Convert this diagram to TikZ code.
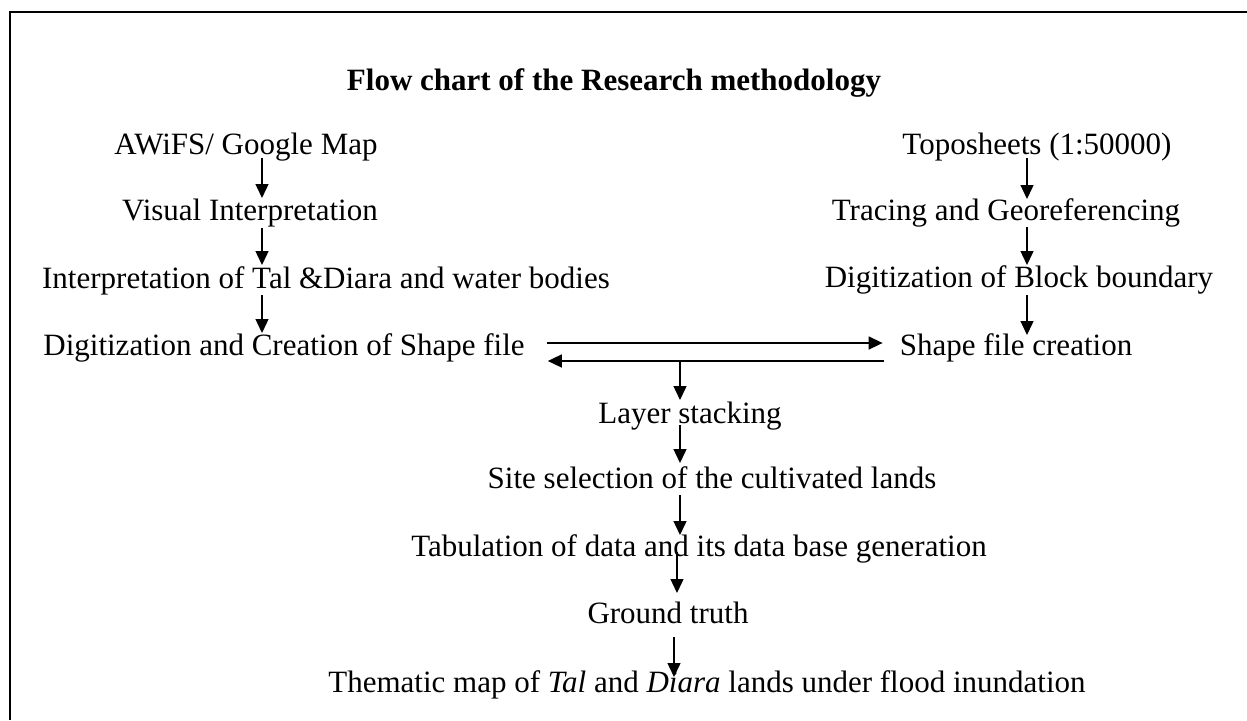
\documentclass[tikz,border=0pt]{standalone}
\usepackage{fontspec}
\setmainfont{Liberation Serif}
\usetikzlibrary{arrows.meta,calc}
\begin{document}
\begin{tikzpicture}[x=1pt,y=-1pt,
  txt/.style={inner sep=0pt,anchor=base,font=\fontsize{31}{37}\selectfont},
  ttl/.style={txt,font=\fontsize{31}{37}\selectfont\bfseries},
  arr/.style={-{Triangle[length=14pt,width=13pt]},line width=1.4pt},
  plain/.style={line width=1.4pt},
  frame/.style={line width=2pt}]
\useasboundingbox (0,0) rectangle (1247,720);
\draw[frame] (10,720) -- (10,12) -- (1247,12);
% columns
\coordinate (cL) at (262,0);
\coordinate (cR) at (1027,0);
\coordinate (cM) at (680,0);
% texts
\node[ttl] (title) at (614,90) {Flow chart of the Research methodology};
\node[txt] (awifs) at (246,154) {AWiFS/ Google Map};
\node[txt] (visual) at (250,220) {Visual Interpretation};
\node[txt] (interp) at (326,288) {Interpretation of Tal \&Diara and water bodies};
\node[txt] (digL) at (284,355) {Digitization and Creation of Shape file};
\node[txt] (topo) at (1037,154) {Toposheets (1:50000)};
\node[txt] (trace) at (1006,220) {Tracing and Georeferencing};
\node[txt] (digR) at (1019,287) {Digitization of Block boundary};
\node[txt] (shapeR) at (1016,355) {Shape file creation};
\node[txt] (layer) at (690,423) {Layer stacking};
\node[txt] (site) at (712,488) {Site selection of the cultivated lands};
\node[txt] (tab) at (699,556) {Tabulation of data and its data base generation};
\node[txt] (ground) at (668,623) {Ground truth};
\node[txt] (them) at (707,692) {Thematic map of \textit{Tal} and \textit{Diara} lands under flood inundation};
% left column arrows
\draw[arr] ($(awifs.base -| cL)+(0,4)$) -- ($(visual.base -| cL)+(0,-22)$);
\draw[arr] ($(visual.base -| cL)+(0,8)$) -- ($(interp.base -| cL)+(0,-23)$);
\draw[arr] ($(interp.base -| cL)+(0,7)$) -- ($(digL.base -| cL)+(0,-22)$);
% right column arrows
\draw[arr] ($(topo.base -| cR)+(0,4)$) -- ($(trace.base -| cR)+(0,-21)$);
\draw[arr] ($(trace.base -| cR)+(0,7)$) -- ($(digR.base -| cR)+(0,-22)$);
\draw[arr] ($(digR.base -| cR)+(0,8)$) -- ($(shapeR.base -| cR)+(0,-20)$);
% horizontal exchange
\draw[arr] ($(digL.base east)+(22,-12)$) -- ($(shapeR.base west)+(-17,-12)$);
\draw[arr] ($(shapeR.base west)+(-16,6)$) -- ($(digL.base east)+(23,6)$);
\coordinate (split) at ($(digL.base -| cM)+(0,6)$);
\draw[arr] (split) -- ($(layer.base -| cM)+(0,-23)$);
% centre column arrows
\draw[arr] ($(layer.base -| cM)+(0,2)$) -- ($(site.base -| cM)+(0,-25)$);
\draw[arr] ($(site.base -| cM)+(0,7)$) -- ($(tab.base -| cM)+(0,-21)$);
\draw[arr] ($(tab.base -| cM)+(-3,-4)$) -- ($(ground.base -| cM)+(-3,-30)$);
\draw[arr] ($(ground.base -| cM)+(-6,14)$) -- ($(them.base -| cM)+(-6,-15)$);
\end{tikzpicture}
\end{document}
